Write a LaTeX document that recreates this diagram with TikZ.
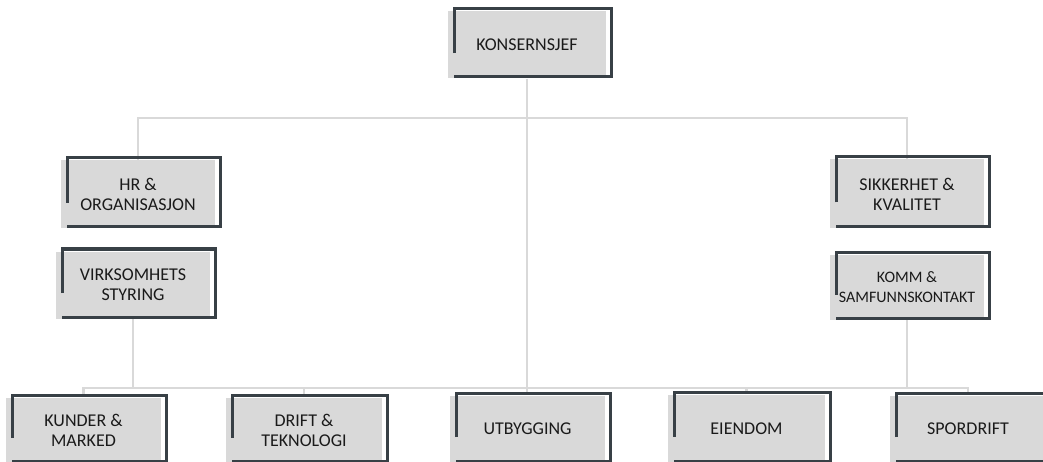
\documentclass[tikz,border=0pt]{standalone}
\usepackage{fontspec}
\setmainfont{Carlito}
\usetikzlibrary{calc,backgrounds}

\definecolor{boxgray}{HTML}{D9D9D9}
\definecolor{framedark}{HTML}{384046}
\definecolor{linkgray}{HTML}{D9D9D9}
\definecolor{labeltext}{HTML}{1A1A1A}

\tikzset{
  unitbox/.style={fill=boxgray, draw=none, inner sep=0pt, align=center,
    font=\fontsize{18}{20}\selectfont, text=labeltext},
  frameline/.style={draw=framedark, line width=3pt, line cap=butt, line join=miter},
  link/.style={draw=linkgray, line width=2.6pt, line join=miter}
}

% #1 extra node options, #2 name, #3 left, #4 top, #5 right, #6 bottom of the dark frame, #7 label
\newcommand\orgunit[7][]{%
  \node[unitbox, minimum width={(#5-#3+1)*1pt}, minimum height={(#6-#4-1)*1pt}, #1]
    (#2) at ({(#3+#5-11)/2},{(#4+#6+4)/2}) {#7};
  \draw[frameline] (#3,{#4+0.65*(#6-#4)}) -- (#3,#4) -- (#5,#4) -- (#5,#6) -- (#3,#6);
}

\begin{document}
\begin{tikzpicture}[x=1pt,y=-1pt]
  \useasboundingbox (0,0) rectangle (1043,462);
  \clip (0,0) rectangle (1043,462);

  \orgunit{ks}{454}{9}{611}{77}{KONSERNSJEF}
  \orgunit{hr}{67}{158}{220}{227}{HR \&\\ORGANISASJON}
  \orgunit{sk}{836}{157}{989}{227}{SIKKERHET \&\\KVALITET}
  \orgunit{vs}{62}{249}{215}{317}{VIRKSOMHETS\\STYRING}
  \orgunit[font=\fontsize{16}{20}\selectfont]{km}{836}{252}{989}{318}{KOMM \&\\SAMFUNNSKONTAKT}
  \orgunit{ku}{12}{395}{166}{461}{KUNDER \&\\MARKED}
  \orgunit{dt}{232}{395}{387}{461}{DRIFT \&\\TEKNOLOGI}
  \orgunit{ut}{456}{393}{610}{461}{UTBYGGING}
  \orgunit{ei}{674}{392}{830}{461}{EIENDOM}
  \orgunit{sp}{896}{393}{1051}{461}{SPORDRIFT}

  % connector buses
  \coordinate (topbus) at (527,118);
  \coordinate (lowbus) at (527,388);

  \begin{pgfonlayer}{background}
    \draw[link] (ks.south) -- (ks.south |- ut.north);
    \draw[link] (hr.north) |- (topbus) -| (sk.north);
    \draw[link] (vs.south) |- (lowbus) -| (km.south);
    \draw[link] (ku.north) |- (lowbus) -| (sp.north);
    \draw[link] (dt.north) -- (dt.north |- lowbus);
    \draw[link] (ei.north) -- (ei.north |- lowbus);
  \end{pgfonlayer}
\end{tikzpicture}
\end{document}
